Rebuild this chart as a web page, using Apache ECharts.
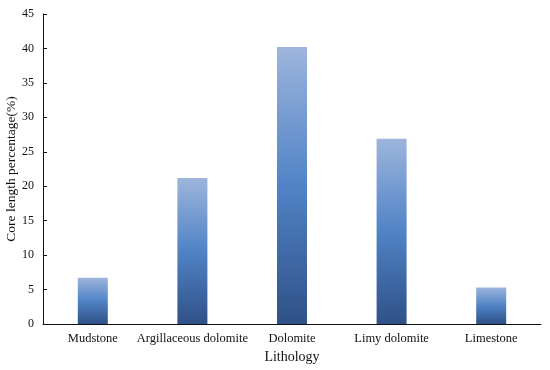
<!DOCTYPE html>
<html><head><meta charset="utf-8">
<script src="https://cdn.jsdelivr.net/npm/echarts@6/dist/echarts.min.js"></script>
<style>html,body{margin:0;padding:0;background:#fff}#c{width:550px;height:370px}</style>
</head><body><div id="c"></div>
<script>
var categories = ['Mudstone', 'Argillaceous dolomite', 'Dolomite', 'Limy dolomite', 'Limestone'];
var values = [6.7, 21.2, 40.2, 26.9, 5.3];
var yTicks = [0, 5, 10, 15, 20, 25, 30, 35, 40, 45];

var font = '"Liberation Serif", "Times New Roman", serif';
var chart = echarts.init(document.getElementById('c'));
chart.setOption({
  animation: false,
  grid: {left: 43, right: 9, top: 14, bottom: 46, containLabel: false, outerBoundsMode: 'none'},
  xAxis: {
    type: 'category', data: categories,
    name: 'Lithology', nameLocation: 'middle', nameGap: 26, nameMoveOverlap: false,
    nameTextStyle: {fontFamily: font, fontSize: 14, color: '#111'},
    axisLine: {lineStyle: {color: '#111', width: 1}},
    axisTick: {inside: true, length: 5, lineStyle: {color: '#111'}},
    axisLabel: {fontFamily: font, fontSize: 12.5, color: '#111', margin: 8, interval: 0}
  },
  yAxis: {
    type: 'value', min: yTicks[0], max: yTicks[yTicks.length - 1], interval: 5,
    name: 'Core length percentage(%)', nameLocation: 'middle', nameGap: 25, nameMoveOverlap: false,
    nameTextStyle: {fontFamily: font, fontSize: 13.5, color: '#111'},
    axisLine: {show: true, lineStyle: {color: '#111', width: 1}},
    axisTick: {show: true, inside: true, length: 4, lineStyle: {color: '#111'}},
    axisLabel: {fontFamily: font, fontSize: 12, color: '#111', margin: 9},
    splitLine: {show: false}
  },
  series: [{
    type: 'bar', data: values, barWidth: 30,
    itemStyle: {
      color: new echarts.graphic.LinearGradient(0, 0, 0, 1, [
        {offset: 0, color: '#9db5dc'},
        {offset: 0.5, color: '#5083c6'},
        {offset: 1, color: '#2f5187'}
      ])
    }
  }]
});
</script></body></html>
